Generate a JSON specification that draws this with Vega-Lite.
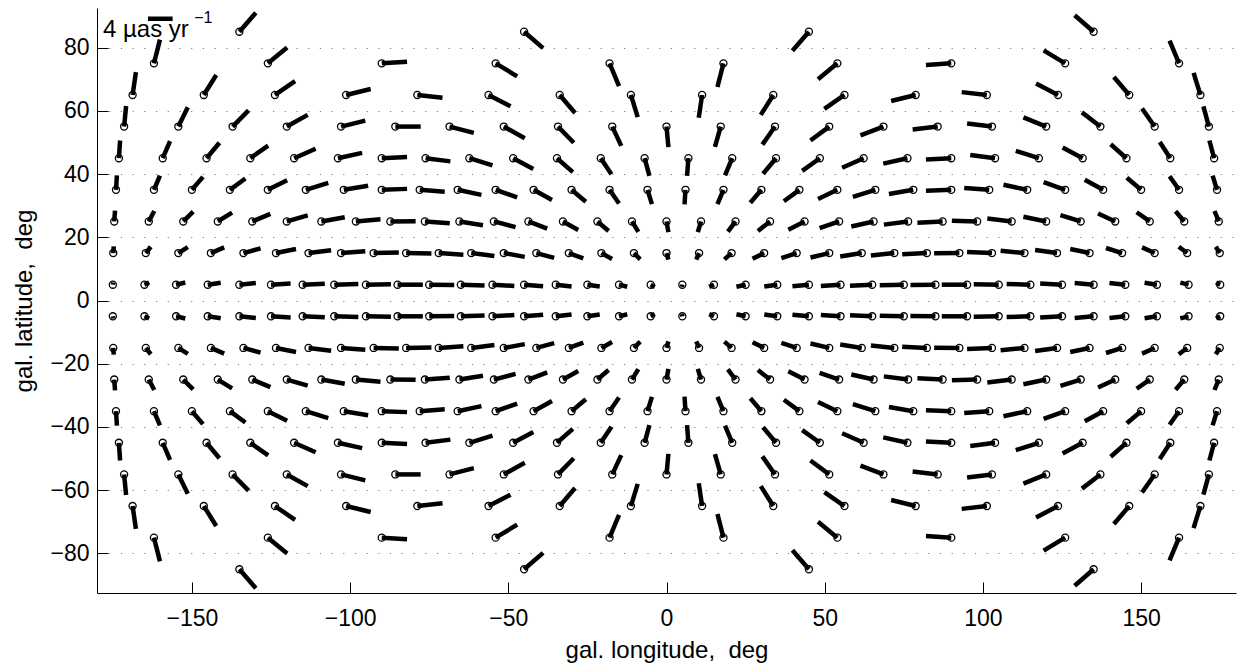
{
"$schema":"https://vega.github.io/schema/vega-lite/v6.json",
"width":1139,"height":585,
"autosize":{"type":"none"},
"padding":{"left":97,"top":8,"right":7,"bottom":74},
"background":"white",
"config":{"view":{"stroke":null},"font":"Liberation Sans",
"axis":{"domainColor":"black","tickColor":"black","labelColor":"black","titleColor":"black","titleFontWeight":"normal","labelFont":"Liberation Sans","titleFont":"Liberation Sans","labelFontSize":23,"titleFontSize":24,"tickSize":-11,"domainWidth":1,"tickWidth":1}},
"datasets":{
"v":[
{"l":-175,"b":5,"l2":-174.9,"b2":5.7},{"l":-165,"b":5,"l2":-163.5,"b2":5.7},{"l":-155,"b":5,"l2":-152.1,"b2":5.7},{"l":-145,"b":5,"l2":-140.9,"b2":5.6},{"l":-135,"b":5,"l2":-129.8,"b2":5.5},{"l":-125,"b":5,"l2":-118.8,"b2":5.4},{"l":-115,"b":5,"l2":-108.0,"b2":5.3},{"l":-105,"b":5,"l2":-97.4,"b2":5.2},{"l":-95,"b":5,"l2":-87.1,"b2":5.1},{"l":-85,"b":5,"l2":-77.0,"b2":5.0},{"l":-75,"b":5,"l2":-67.1,"b2":4.9},{"l":-65,"b":5,"l2":-57.5,"b2":4.75},{"l":-55,"b":5,"l2":-48.1,"b2":4.6},{"l":-45,"b":5,"l2":-39.0,"b2":4.5},{"l":-35,"b":5,"l2":-30.0,"b2":4.45},{"l":-25,"b":5,"l2":-21.1,"b2":4.4},{"l":-15,"b":5,"l2":-12.4,"b2":4.35},{"l":-5,"b":5,"l2":-3.7,"b2":4.3},{"l":5,"b":5,"l2":4.9,"b2":4.3},{"l":15,"b":5,"l2":13.5,"b2":4.3},{"l":25,"b":5,"l2":22.1,"b2":4.35},{"l":35,"b":5,"l2":30.9,"b2":4.4},{"l":45,"b":5,"l2":39.8,"b2":4.5},{"l":55,"b":5,"l2":48.8,"b2":4.6},{"l":65,"b":5,"l2":58.0,"b2":4.7},{"l":75,"b":5,"l2":67.4,"b2":4.8},{"l":85,"b":5,"l2":77.1,"b2":4.9},{"l":95,"b":5,"l2":87.0,"b2":5.0},{"l":105,"b":5,"l2":97.1,"b2":5.1},{"l":115,"b":5,"l2":107.5,"b2":5.25},{"l":125,"b":5,"l2":118.1,"b2":5.4},{"l":135,"b":5,"l2":129.0,"b2":5.5},{"l":145,"b":5,"l2":140.0,"b2":5.55},{"l":155,"b":5,"l2":151.1,"b2":5.6},{"l":165,"b":5,"l2":162.4,"b2":5.65},{"l":175,"b":5,"l2":173.7,"b2":5.7},
{"l":-175,"b":-5,"l2":-174.9,"b2":-5.7},{"l":-165,"b":-5,"l2":-163.5,"b2":-5.7},{"l":-155,"b":-5,"l2":-152.1,"b2":-5.7},{"l":-145,"b":-5,"l2":-140.9,"b2":-5.6},{"l":-135,"b":-5,"l2":-129.8,"b2":-5.5},{"l":-125,"b":-5,"l2":-118.8,"b2":-5.4},{"l":-115,"b":-5,"l2":-108.0,"b2":-5.3},{"l":-105,"b":-5,"l2":-97.4,"b2":-5.2},{"l":-95,"b":-5,"l2":-87.1,"b2":-5.1},{"l":-85,"b":-5,"l2":-77.0,"b2":-5.0},{"l":-75,"b":-5,"l2":-67.1,"b2":-4.9},{"l":-65,"b":-5,"l2":-57.5,"b2":-4.75},{"l":-55,"b":-5,"l2":-48.1,"b2":-4.6},{"l":-45,"b":-5,"l2":-39.0,"b2":-4.5},{"l":-35,"b":-5,"l2":-30.0,"b2":-4.45},{"l":-25,"b":-5,"l2":-21.1,"b2":-4.4},{"l":-15,"b":-5,"l2":-12.4,"b2":-4.35},{"l":-5,"b":-5,"l2":-3.7,"b2":-4.3},{"l":5,"b":-5,"l2":4.9,"b2":-4.3},{"l":15,"b":-5,"l2":13.5,"b2":-4.3},{"l":25,"b":-5,"l2":22.1,"b2":-4.35},{"l":35,"b":-5,"l2":30.9,"b2":-4.4},{"l":45,"b":-5,"l2":39.8,"b2":-4.5},{"l":55,"b":-5,"l2":48.8,"b2":-4.6},{"l":65,"b":-5,"l2":58.0,"b2":-4.7},{"l":75,"b":-5,"l2":67.4,"b2":-4.8},{"l":85,"b":-5,"l2":77.1,"b2":-4.9},{"l":95,"b":-5,"l2":87.0,"b2":-5.0},{"l":105,"b":-5,"l2":97.1,"b2":-5.1},{"l":115,"b":-5,"l2":107.5,"b2":-5.25},{"l":125,"b":-5,"l2":118.1,"b2":-5.4},{"l":135,"b":-5,"l2":129.0,"b2":-5.5},{"l":145,"b":-5,"l2":140.0,"b2":-5.55},{"l":155,"b":-5,"l2":151.1,"b2":-5.6},{"l":165,"b":-5,"l2":162.4,"b2":-5.65},{"l":175,"b":-5,"l2":173.7,"b2":-5.7},
{"l":-174.86,"b":15,"l2":-174.7,"b2":17.1},{"l":-164.57,"b":15,"l2":-163.0,"b2":17.0},{"l":-154.29,"b":15,"l2":-151.3,"b2":16.9},{"l":-144,"b":15,"l2":-139.8,"b2":16.8},{"l":-133.71,"b":15,"l2":-128.3,"b2":16.5},{"l":-123.43,"b":15,"l2":-117.1,"b2":16.3},{"l":-113.14,"b":15,"l2":-106.0,"b2":15.9},{"l":-102.86,"b":15,"l2":-95.2,"b2":15.6},{"l":-92.57,"b":15,"l2":-84.6,"b2":15.2},{"l":-82.29,"b":15,"l2":-74.3,"b2":14.9},{"l":-72,"b":15,"l2":-64.2,"b2":14.5},{"l":-61.71,"b":15,"l2":-54.4,"b2":14.1},{"l":-51.43,"b":15,"l2":-44.8,"b2":13.8},{"l":-41.14,"b":15,"l2":-35.5,"b2":13.5},{"l":-30.86,"b":15,"l2":-26.3,"b2":13.3},{"l":-20.57,"b":15,"l2":-17.2,"b2":13.1},{"l":-10.29,"b":15,"l2":-8.3,"b2":13.0},{"l":0,"b":15,"l2":0.6,"b2":12.9},{"l":10.29,"b":15,"l2":9.4,"b2":12.9},{"l":20.57,"b":15,"l2":18.3,"b2":13.0},{"l":30.86,"b":15,"l2":27.2,"b2":13.2},{"l":41.14,"b":15,"l2":36.3,"b2":13.4},{"l":51.43,"b":15,"l2":45.5,"b2":13.6},{"l":61.71,"b":15,"l2":54.9,"b2":13.9},{"l":72,"b":15,"l2":64.6,"b2":14.2},{"l":82.29,"b":15,"l2":74.5,"b2":14.6},{"l":92.57,"b":15,"l2":84.6,"b2":14.95},{"l":102.86,"b":15,"l2":95.0,"b2":15.3},{"l":113.14,"b":15,"l2":105.6,"b2":15.7},{"l":123.43,"b":15,"l2":116.5,"b2":16.0},{"l":133.71,"b":15,"l2":127.6,"b2":16.3},{"l":144,"b":15,"l2":138.9,"b2":16.6},{"l":154.29,"b":15,"l2":150.3,"b2":16.8},{"l":164.57,"b":15,"l2":161.9,"b2":17.0},{"l":174.86,"b":15,"l2":173.6,"b2":17.0},
{"l":-174.86,"b":-15,"l2":-174.7,"b2":-17.1},{"l":-164.57,"b":-15,"l2":-163.0,"b2":-17.0},{"l":-154.29,"b":-15,"l2":-151.3,"b2":-16.9},{"l":-144,"b":-15,"l2":-139.8,"b2":-16.8},{"l":-133.71,"b":-15,"l2":-128.3,"b2":-16.5},{"l":-123.43,"b":-15,"l2":-117.1,"b2":-16.3},{"l":-113.14,"b":-15,"l2":-106.0,"b2":-15.9},{"l":-102.86,"b":-15,"l2":-95.2,"b2":-15.6},{"l":-92.57,"b":-15,"l2":-84.6,"b2":-15.2},{"l":-82.29,"b":-15,"l2":-74.3,"b2":-14.9},{"l":-72,"b":-15,"l2":-64.2,"b2":-14.5},{"l":-61.71,"b":-15,"l2":-54.4,"b2":-14.1},{"l":-51.43,"b":-15,"l2":-44.8,"b2":-13.8},{"l":-41.14,"b":-15,"l2":-35.5,"b2":-13.5},{"l":-30.86,"b":-15,"l2":-26.3,"b2":-13.3},{"l":-20.57,"b":-15,"l2":-17.2,"b2":-13.1},{"l":-10.29,"b":-15,"l2":-8.3,"b2":-13.0},{"l":0,"b":-15,"l2":0.6,"b2":-12.9},{"l":10.29,"b":-15,"l2":9.4,"b2":-12.9},{"l":20.57,"b":-15,"l2":18.3,"b2":-13.0},{"l":30.86,"b":-15,"l2":27.2,"b2":-13.2},{"l":41.14,"b":-15,"l2":36.3,"b2":-13.4},{"l":51.43,"b":-15,"l2":45.5,"b2":-13.6},{"l":61.71,"b":-15,"l2":54.9,"b2":-13.9},{"l":72,"b":-15,"l2":64.6,"b2":-14.2},{"l":82.29,"b":-15,"l2":74.5,"b2":-14.6},{"l":92.57,"b":-15,"l2":84.6,"b2":-14.95},{"l":102.86,"b":-15,"l2":95.0,"b2":-15.3},{"l":113.14,"b":-15,"l2":105.6,"b2":-15.7},{"l":123.43,"b":-15,"l2":116.5,"b2":-16.0},{"l":133.71,"b":-15,"l2":127.6,"b2":-16.3},{"l":144,"b":-15,"l2":138.9,"b2":-16.6},{"l":154.29,"b":-15,"l2":150.3,"b2":-16.8},{"l":164.57,"b":-15,"l2":161.9,"b2":-17.0},{"l":174.86,"b":-15,"l2":173.6,"b2":-17.0},
{"l":-174.55,"b":25,"l2":-174.3,"b2":28.4},{"l":-163.64,"b":25,"l2":-161.9,"b2":28.3},{"l":-152.73,"b":25,"l2":-149.6,"b2":28.1},{"l":-141.82,"b":25,"l2":-137.3,"b2":27.8},{"l":-130.91,"b":25,"l2":-125.2,"b2":27.4},{"l":-120,"b":25,"l2":-113.4,"b2":26.9},{"l":-109.09,"b":25,"l2":-101.7,"b2":26.3},{"l":-98.18,"b":25,"l2":-90.4,"b2":25.7},{"l":-87.27,"b":25,"l2":-79.3,"b2":25.1},{"l":-76.36,"b":25,"l2":-68.5,"b2":24.4},{"l":-65.45,"b":25,"l2":-58.0,"b2":23.8},{"l":-54.55,"b":25,"l2":-47.7,"b2":23.2},{"l":-43.64,"b":25,"l2":-37.7,"b2":22.7},{"l":-32.73,"b":25,"l2":-27.9,"b2":22.3},{"l":-21.82,"b":25,"l2":-18.3,"b2":22.0},{"l":-10.91,"b":25,"l2":-8.9,"b2":21.7},{"l":0,"b":25,"l2":0.6,"b2":21.6},{"l":10.91,"b":25,"l2":9.9,"b2":21.6},{"l":21.82,"b":25,"l2":19.4,"b2":21.8},{"l":32.73,"b":25,"l2":28.9,"b2":22.0},{"l":43.64,"b":25,"l2":38.5,"b2":22.4},{"l":54.55,"b":25,"l2":48.4,"b2":22.9},{"l":65.45,"b":25,"l2":58.4,"b2":23.4},{"l":76.36,"b":25,"l2":68.7,"b2":24.0},{"l":87.27,"b":25,"l2":79.3,"b2":24.6},{"l":98.18,"b":25,"l2":90.2,"b2":25.2},{"l":109.09,"b":25,"l2":101.4,"b2":25.9},{"l":120,"b":25,"l2":112.8,"b2":26.5},{"l":130.91,"b":25,"l2":124.5,"b2":27.0},{"l":141.82,"b":25,"l2":136.4,"b2":27.5},{"l":152.73,"b":25,"l2":148.6,"b2":27.9},{"l":163.64,"b":25,"l2":160.9,"b2":28.2},{"l":174.55,"b":25,"l2":173.2,"b2":28.3},
{"l":-174.55,"b":-25,"l2":-174.3,"b2":-28.4},{"l":-163.64,"b":-25,"l2":-161.9,"b2":-28.3},{"l":-152.73,"b":-25,"l2":-149.6,"b2":-28.1},{"l":-141.82,"b":-25,"l2":-137.3,"b2":-27.8},{"l":-130.91,"b":-25,"l2":-125.2,"b2":-27.4},{"l":-120,"b":-25,"l2":-113.4,"b2":-26.9},{"l":-109.09,"b":-25,"l2":-101.7,"b2":-26.3},{"l":-98.18,"b":-25,"l2":-90.4,"b2":-25.7},{"l":-87.27,"b":-25,"l2":-79.3,"b2":-25.1},{"l":-76.36,"b":-25,"l2":-68.5,"b2":-24.4},{"l":-65.45,"b":-25,"l2":-58.0,"b2":-23.8},{"l":-54.55,"b":-25,"l2":-47.7,"b2":-23.2},{"l":-43.64,"b":-25,"l2":-37.7,"b2":-22.7},{"l":-32.73,"b":-25,"l2":-27.9,"b2":-22.3},{"l":-21.82,"b":-25,"l2":-18.3,"b2":-22.0},{"l":-10.91,"b":-25,"l2":-8.9,"b2":-21.7},{"l":0,"b":-25,"l2":0.6,"b2":-21.6},{"l":10.91,"b":-25,"l2":9.9,"b2":-21.6},{"l":21.82,"b":-25,"l2":19.4,"b2":-21.8},{"l":32.73,"b":-25,"l2":28.9,"b2":-22.0},{"l":43.64,"b":-25,"l2":38.5,"b2":-22.4},{"l":54.55,"b":-25,"l2":48.4,"b2":-22.9},{"l":65.45,"b":-25,"l2":58.4,"b2":-23.4},{"l":76.36,"b":-25,"l2":68.7,"b2":-24.0},{"l":87.27,"b":-25,"l2":79.3,"b2":-24.6},{"l":98.18,"b":-25,"l2":90.2,"b2":-25.2},{"l":109.09,"b":-25,"l2":101.4,"b2":-25.9},{"l":120,"b":-25,"l2":112.8,"b2":-26.5},{"l":130.91,"b":-25,"l2":124.5,"b2":-27.0},{"l":141.82,"b":-25,"l2":136.4,"b2":-27.5},{"l":152.73,"b":-25,"l2":148.6,"b2":-27.9},{"l":163.64,"b":-25,"l2":160.9,"b2":-28.2},{"l":174.55,"b":-25,"l2":173.2,"b2":-28.3},
{"l":-174,"b":35,"l2":-173.7,"b2":39.6},{"l":-162,"b":35,"l2":-160.1,"b2":39.5},{"l":-150,"b":35,"l2":-146.5,"b2":39.1},{"l":-138,"b":35,"l2":-133.1,"b2":38.6},{"l":-126,"b":35,"l2":-119.9,"b2":38.0},{"l":-114,"b":35,"l2":-106.9,"b2":37.2},{"l":-102,"b":35,"l2":-94.3,"b2":36.3},{"l":-90,"b":35,"l2":-82.0,"b2":35.3},{"l":-78,"b":35,"l2":-70.1,"b2":34.4},{"l":-66,"b":35,"l2":-58.5,"b2":33.4},{"l":-54,"b":35,"l2":-47.2,"b2":32.6},{"l":-42,"b":35,"l2":-36.2,"b2":31.8},{"l":-30,"b":35,"l2":-25.5,"b2":31.2},{"l":-18,"b":35,"l2":-15.0,"b2":30.7},{"l":-6,"b":35,"l2":-4.6,"b2":30.5},{"l":6,"b":35,"l2":5.7,"b2":30.4},{"l":18,"b":35,"l2":16.1,"b2":30.5},{"l":30,"b":35,"l2":26.5,"b2":30.9},{"l":42,"b":35,"l2":37.1,"b2":31.4},{"l":54,"b":35,"l2":47.9,"b2":32.1},{"l":66,"b":35,"l2":58.9,"b2":32.8},{"l":78,"b":35,"l2":70.3,"b2":33.7},{"l":90,"b":35,"l2":82.0,"b2":34.7},{"l":102,"b":35,"l2":94.1,"b2":35.6},{"l":114,"b":35,"l2":106.5,"b2":36.6},{"l":126,"b":35,"l2":119.2,"b2":37.4},{"l":138,"b":35,"l2":132.2,"b2":38.2},{"l":150,"b":35,"l2":145.5,"b2":38.8},{"l":162,"b":35,"l2":159.0,"b2":39.3},{"l":174,"b":35,"l2":172.6,"b2":39.5},
{"l":-174,"b":-35,"l2":-173.7,"b2":-39.6},{"l":-162,"b":-35,"l2":-160.1,"b2":-39.5},{"l":-150,"b":-35,"l2":-146.5,"b2":-39.1},{"l":-138,"b":-35,"l2":-133.1,"b2":-38.6},{"l":-126,"b":-35,"l2":-119.9,"b2":-38.0},{"l":-114,"b":-35,"l2":-106.9,"b2":-37.2},{"l":-102,"b":-35,"l2":-94.3,"b2":-36.3},{"l":-90,"b":-35,"l2":-82.0,"b2":-35.3},{"l":-78,"b":-35,"l2":-70.1,"b2":-34.4},{"l":-66,"b":-35,"l2":-58.5,"b2":-33.4},{"l":-54,"b":-35,"l2":-47.2,"b2":-32.6},{"l":-42,"b":-35,"l2":-36.2,"b2":-31.8},{"l":-30,"b":-35,"l2":-25.5,"b2":-31.2},{"l":-18,"b":-35,"l2":-15.0,"b2":-30.7},{"l":-6,"b":-35,"l2":-4.6,"b2":-30.5},{"l":6,"b":-35,"l2":5.7,"b2":-30.4},{"l":18,"b":-35,"l2":16.1,"b2":-30.5},{"l":30,"b":-35,"l2":26.5,"b2":-30.9},{"l":42,"b":-35,"l2":37.1,"b2":-31.4},{"l":54,"b":-35,"l2":47.9,"b2":-32.1},{"l":66,"b":-35,"l2":58.9,"b2":-32.8},{"l":78,"b":-35,"l2":70.3,"b2":-33.7},{"l":90,"b":-35,"l2":82.0,"b2":-34.7},{"l":102,"b":-35,"l2":94.1,"b2":-35.6},{"l":114,"b":-35,"l2":106.5,"b2":-36.6},{"l":126,"b":-35,"l2":119.2,"b2":-37.4},{"l":138,"b":-35,"l2":132.2,"b2":-38.2},{"l":150,"b":-35,"l2":145.5,"b2":-38.8},{"l":162,"b":-35,"l2":159.0,"b2":-39.3},{"l":174,"b":-35,"l2":172.6,"b2":-39.5},
{"l":-173.08,"b":45,"l2":-172.7,"b2":50.6},{"l":-159.23,"b":45,"l2":-156.9,"b2":50.4},{"l":-145.38,"b":45,"l2":-141.3,"b2":49.9},{"l":-131.54,"b":45,"l2":-125.9,"b2":49.0},{"l":-117.69,"b":45,"l2":-110.9,"b2":48.0},{"l":-103.85,"b":45,"l2":-96.2,"b2":46.7},{"l":-90,"b":45,"l2":-82.0,"b2":45.4},{"l":-76.15,"b":45,"l2":-68.3,"b2":44.0},{"l":-62.31,"b":45,"l2":-55.0,"b2":42.7},{"l":-48.46,"b":45,"l2":-42.1,"b2":41.6},{"l":-34.62,"b":45,"l2":-29.6,"b2":40.6},{"l":-20.77,"b":45,"l2":-17.4,"b2":39.9},{"l":-6.92,"b":45,"l2":-5.4,"b2":39.4},{"l":6.92,"b":45,"l2":6.5,"b2":39.4},{"l":20.77,"b":45,"l2":18.5,"b2":39.6},{"l":34.62,"b":45,"l2":30.5,"b2":40.1},{"l":48.46,"b":45,"l2":42.9,"b2":41.0},{"l":62.31,"b":45,"l2":55.5,"b2":42.0},{"l":76.15,"b":45,"l2":68.5,"b2":43.3},{"l":90,"b":45,"l2":82.0,"b2":44.6},{"l":103.85,"b":45,"l2":96.0,"b2":46.0},{"l":117.69,"b":45,"l2":110.4,"b2":47.3},{"l":131.54,"b":45,"l2":125.2,"b2":48.4},{"l":145.38,"b":45,"l2":140.4,"b2":49.4},{"l":159.23,"b":45,"l2":155.9,"b2":50.1},{"l":173.08,"b":45,"l2":171.6,"b2":50.6},
{"l":-173.08,"b":-45,"l2":-172.7,"b2":-50.6},{"l":-159.23,"b":-45,"l2":-156.9,"b2":-50.4},{"l":-145.38,"b":-45,"l2":-141.3,"b2":-49.9},{"l":-131.54,"b":-45,"l2":-125.9,"b2":-49.0},{"l":-117.69,"b":-45,"l2":-110.9,"b2":-48.0},{"l":-103.85,"b":-45,"l2":-96.2,"b2":-46.7},{"l":-90,"b":-45,"l2":-82.0,"b2":-45.4},{"l":-76.15,"b":-45,"l2":-68.3,"b2":-44.0},{"l":-62.31,"b":-45,"l2":-55.0,"b2":-42.7},{"l":-48.46,"b":-45,"l2":-42.1,"b2":-41.6},{"l":-34.62,"b":-45,"l2":-29.6,"b2":-40.6},{"l":-20.77,"b":-45,"l2":-17.4,"b2":-39.9},{"l":-6.92,"b":-45,"l2":-5.4,"b2":-39.4},{"l":6.92,"b":-45,"l2":6.5,"b2":-39.4},{"l":20.77,"b":-45,"l2":18.5,"b2":-39.6},{"l":34.62,"b":-45,"l2":30.5,"b2":-40.1},{"l":48.46,"b":-45,"l2":42.9,"b2":-41.0},{"l":62.31,"b":-45,"l2":55.5,"b2":-42.0},{"l":76.15,"b":-45,"l2":68.5,"b2":-43.3},{"l":90,"b":-45,"l2":82.0,"b2":-44.6},{"l":103.85,"b":-45,"l2":96.0,"b2":-46.0},{"l":117.69,"b":-45,"l2":110.4,"b2":-47.3},{"l":131.54,"b":-45,"l2":125.2,"b2":-48.4},{"l":145.38,"b":-45,"l2":140.4,"b2":-49.4},{"l":159.23,"b":-45,"l2":155.9,"b2":-50.1},{"l":173.08,"b":-45,"l2":171.6,"b2":-50.6},
{"l":-171.43,"b":55,"l2":-170.8,"b2":61.5},{"l":-154.29,"b":55,"l2":-151.3,"b2":61.1},{"l":-137.14,"b":55,"l2":-132.1,"b2":60.1},{"l":-120,"b":55,"l2":-113.4,"b2":58.7},{"l":-102.86,"b":55,"l2":-95.2,"b2":56.9},{"l":-85.71,"b":55,"l2":-77.7,"b2":55.0},{"l":-68.57,"b":55,"l2":-60.9,"b2":53.0},{"l":-51.43,"b":55,"l2":-44.8,"b2":51.3},{"l":-34.29,"b":55,"l2":-29.3,"b2":49.9},{"l":-17.14,"b":55,"l2":-14.3,"b2":48.9},{"l":0,"b":55,"l2":0.6,"b2":48.5},{"l":17.14,"b":55,"l2":15.3,"b2":48.6},{"l":34.29,"b":55,"l2":30.3,"b2":49.3},{"l":51.43,"b":55,"l2":45.5,"b2":50.6},{"l":68.57,"b":55,"l2":61.3,"b2":52.2},{"l":85.71,"b":55,"l2":77.8,"b2":54.1},{"l":102.86,"b":55,"l2":95.0,"b2":56.0},{"l":120,"b":55,"l2":112.8,"b2":57.9},{"l":137.14,"b":55,"l2":131.3,"b2":59.5},{"l":154.29,"b":55,"l2":150.3,"b2":60.7},{"l":171.43,"b":55,"l2":169.7,"b2":61.4},
{"l":-171.43,"b":-55,"l2":-170.8,"b2":-61.5},{"l":-154.29,"b":-55,"l2":-151.3,"b2":-61.1},{"l":-137.14,"b":-55,"l2":-132.1,"b2":-60.1},{"l":-120,"b":-55,"l2":-113.4,"b2":-58.7},{"l":-102.86,"b":-55,"l2":-95.2,"b2":-56.9},{"l":-85.71,"b":-55,"l2":-77.7,"b2":-55.0},{"l":-68.57,"b":-55,"l2":-60.9,"b2":-53.0},{"l":-51.43,"b":-55,"l2":-44.8,"b2":-51.3},{"l":-34.29,"b":-55,"l2":-29.3,"b2":-49.9},{"l":-17.14,"b":-55,"l2":-14.3,"b2":-48.9},{"l":0,"b":-55,"l2":0.6,"b2":-48.5},{"l":17.14,"b":-55,"l2":15.3,"b2":-48.6},{"l":34.29,"b":-55,"l2":30.3,"b2":-49.3},{"l":51.43,"b":-55,"l2":45.5,"b2":-50.6},{"l":68.57,"b":-55,"l2":61.3,"b2":-52.2},{"l":85.71,"b":-55,"l2":77.8,"b2":-54.1},{"l":102.86,"b":-55,"l2":95.0,"b2":-56.0},{"l":120,"b":-55,"l2":112.8,"b2":-57.9},{"l":137.14,"b":-55,"l2":131.3,"b2":-59.5},{"l":154.29,"b":-55,"l2":150.3,"b2":-60.7},{"l":171.43,"b":-55,"l2":169.7,"b2":-61.4},
{"l":-168.75,"b":65,"l2":-167.7,"b2":72.2},{"l":-146.25,"b":65,"l2":-142.3,"b2":71.3},{"l":-123.75,"b":65,"l2":-117.4,"b2":69.4},{"l":-101.25,"b":65,"l2":-93.5,"b2":66.9},{"l":-78.75,"b":65,"l2":-70.8,"b2":64.1},{"l":-56.25,"b":65,"l2":-49.3,"b2":61.4},{"l":-33.75,"b":65,"l2":-28.9,"b2":59.3},{"l":-11.25,"b":65,"l2":-9.1,"b2":58.0},{"l":11.25,"b":65,"l2":10.2,"b2":57.8},{"l":33.75,"b":65,"l2":29.8,"b2":58.7},{"l":56.25,"b":65,"l2":49.9,"b2":60.6},{"l":78.75,"b":65,"l2":71.0,"b2":63.1},{"l":101.25,"b":65,"l2":93.3,"b2":65.9},{"l":123.75,"b":65,"l2":116.8,"b2":68.6},{"l":146.25,"b":65,"l2":141.4,"b2":70.7},{"l":168.75,"b":65,"l2":166.6,"b2":72.0},
{"l":-168.75,"b":-65,"l2":-167.7,"b2":-72.2},{"l":-146.25,"b":-65,"l2":-142.3,"b2":-71.3},{"l":-123.75,"b":-65,"l2":-117.4,"b2":-69.4},{"l":-101.25,"b":-65,"l2":-93.5,"b2":-66.9},{"l":-78.75,"b":-65,"l2":-70.8,"b2":-64.1},{"l":-56.25,"b":-65,"l2":-49.3,"b2":-61.4},{"l":-33.75,"b":-65,"l2":-28.9,"b2":-59.3},{"l":-11.25,"b":-65,"l2":-9.1,"b2":-58.0},{"l":11.25,"b":-65,"l2":10.2,"b2":-57.8},{"l":33.75,"b":-65,"l2":29.8,"b2":-58.7},{"l":56.25,"b":-65,"l2":49.9,"b2":-60.6},{"l":78.75,"b":-65,"l2":71.0,"b2":-63.1},{"l":101.25,"b":-65,"l2":93.3,"b2":-65.9},{"l":123.75,"b":-65,"l2":116.8,"b2":-68.6},{"l":146.25,"b":-65,"l2":141.4,"b2":-70.7},{"l":168.75,"b":-65,"l2":166.6,"b2":-72.0},
{"l":-162,"b":75,"l2":-160.1,"b2":82.5},{"l":-126,"b":75,"l2":-119.9,"b2":80.0},{"l":-90,"b":75,"l2":-82.0,"b2":75.5},{"l":-54,"b":75,"l2":-47.2,"b2":70.9},{"l":-18,"b":75,"l2":-15.0,"b2":67.8},{"l":18,"b":75,"l2":16.1,"b2":67.5},{"l":54,"b":75,"l2":47.9,"b2":70.0},{"l":90,"b":75,"l2":82.0,"b2":74.5},{"l":126,"b":75,"l2":119.2,"b2":79.1},{"l":162,"b":75,"l2":159.0,"b2":82.2},
{"l":-162,"b":-75,"l2":-160.1,"b2":-82.5},{"l":-126,"b":-75,"l2":-119.9,"b2":-80.0},{"l":-90,"b":-75,"l2":-82.0,"b2":-75.5},{"l":-54,"b":-75,"l2":-47.2,"b2":-70.9},{"l":-18,"b":-75,"l2":-15.0,"b2":-67.8},{"l":18,"b":-75,"l2":16.1,"b2":-67.5},{"l":54,"b":-75,"l2":47.9,"b2":-70.0},{"l":90,"b":-75,"l2":82.0,"b2":-74.5},{"l":126,"b":-75,"l2":119.2,"b2":-79.1},{"l":162,"b":-75,"l2":159.0,"b2":-82.2},
{"l":-135,"b":85,"l2":-129.8,"b2":91.0},{"l":-45,"b":85,"l2":-39.0,"b2":79.8},{"l":45,"b":85,"l2":39.8,"b2":79.0},{"l":135,"b":85,"l2":129.0,"b2":90.2},
{"l":-135,"b":-85,"l2":-129.8,"b2":-91.0},{"l":-45,"b":-85,"l2":-39.0,"b2":-79.8},{"l":45,"b":-85,"l2":39.8,"b2":-79.0},{"l":135,"b":-85,"l2":129.0,"b2":-90.2}
],
"bar":[{"l":-163.9,"b":89.1,"l2":-156.1,"b2":89.1}],
"ann":[{"l":-178.1,"b":83.4,"t":"4 µas yr"}],
"sup":[{"l":-149.3,"b":87.6,"t":"−1"}]
},
"layer":[
{"data":{"name":"v"},
 "mark":{"type":"point","shape":"circle","filled":true,"fill":"white","stroke":"black","strokeWidth":1.3,"size":50,"opacity":1},
 "encoding":{
  "x":{"field":"l","type":"quantitative","scale":{"domain":[-180,180],"nice":false,"zero":false},
       "axis":{"values":[-150,-100,-50,0,50,100,150],"grid":false,"title":"gal. longitude,\u00a0 deg","labelPadding":25,"titlePadding":8}},
  "y":{"field":"b","type":"quantitative","scale":{"domain":[-92.5,92.5],"nice":false,"zero":false},
       "axis":{"values":[-80,-60,-40,-20,0,20,40,60,80],"grid":true,"gridDash":[1.2,10.5],"gridColor":"#808080","gridWidth":1.2,"title":"gal. latitude,\u00a0 deg","labelPadding":19,"titlePadding":13}}
 }},
{"data":{"name":"v"},
 "mark":{"type":"rule","strokeWidth":4.5,"color":"black","strokeCap":"butt"},
 "encoding":{"x":{"field":"l","type":"quantitative"},"y":{"field":"b","type":"quantitative"},"x2":{"field":"l2"},"y2":{"field":"b2"}}},
{"data":{"name":"bar"},
 "mark":{"type":"rule","strokeWidth":4.5,"color":"black","strokeCap":"butt"},
 "encoding":{"x":{"field":"l","type":"quantitative"},"y":{"field":"b","type":"quantitative"},"x2":{"field":"l2"},"y2":{"field":"b2"}}},
{"data":{"name":"ann"},
 "mark":{"type":"text","align":"left","baseline":"alphabetic","fontSize":24,"color":"black","font":"Liberation Sans"},
 "encoding":{"x":{"field":"l","type":"quantitative"},"y":{"field":"b","type":"quantitative"},"text":{"field":"t"}}},
{"data":{"name":"sup"},
 "mark":{"type":"text","align":"left","baseline":"alphabetic","fontSize":16,"color":"black","font":"Liberation Sans"},
 "encoding":{"x":{"field":"l","type":"quantitative"},"y":{"field":"b","type":"quantitative"},"text":{"field":"t"}}}
]
}
